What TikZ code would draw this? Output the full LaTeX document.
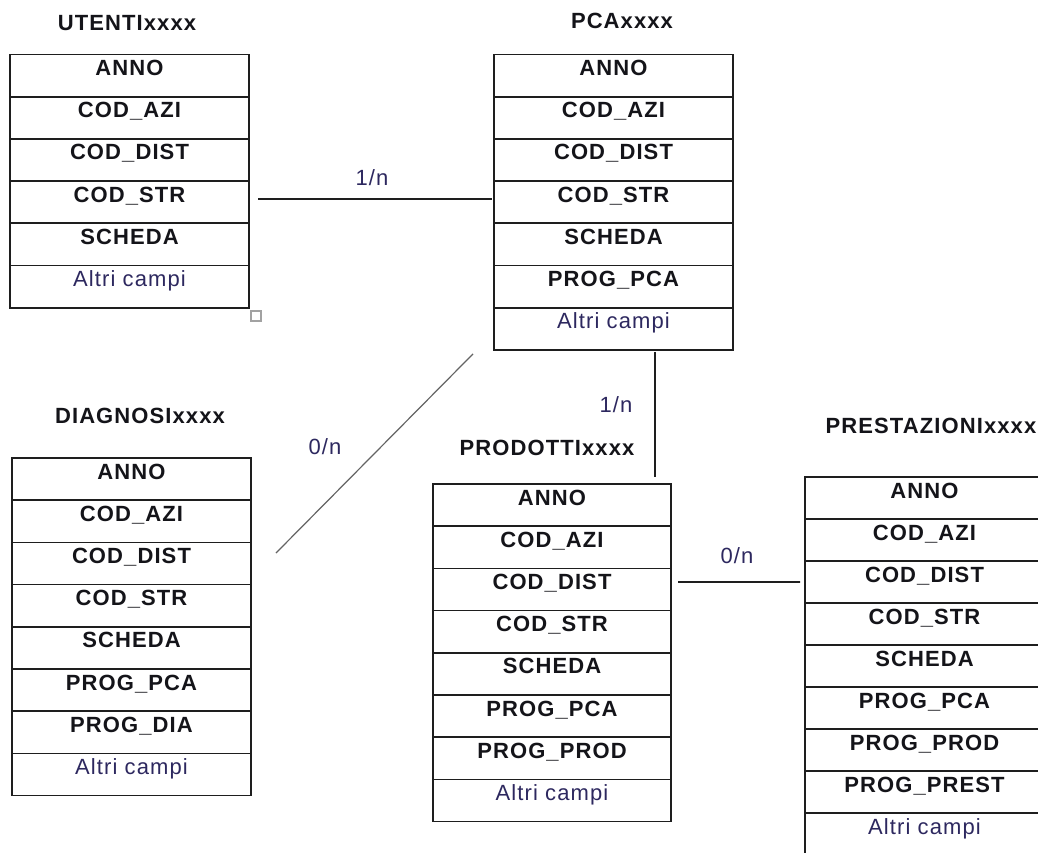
\documentclass[tikz,border=0pt]{standalone}
\usepackage{fontspec}
\setmainfont{Liberation Sans}[LetterSpace=5]
\usetikzlibrary{positioning}
\begin{document}
\begin{tikzpicture}[x=1pt,y=-1pt,
  campo/.style={draw=drawColor,line width=1.7pt,outer sep=0pt,inner xsep=0pt,inner ysep=0pt,
    minimum width=239pt,text height=21pt,text depth=21.2pt,text=textColor,
    font=\fontsize{22}{24}\selectfont\bfseries},
  altri/.style={campo,text=blueColor,font=\fontsize{22}{24}\selectfont},
  titolo/.style={anchor=base,inner sep=0pt,outer sep=0pt,text=textColor,
    font=\fontsize{22}{24}\selectfont\bfseries},
  etich/.style={anchor=base,inner sep=0pt,outer sep=0pt,text=blueColor,
    font=\fontsize{22}{24}\selectfont},
  rel/.style={draw=drawColor,line width=1.7pt}]
\definecolor{fillColor}{RGB}{255,255,255}
\definecolor{drawColor}{RGB}{30,30,30}
\definecolor{textColor}{RGB}{20,20,25}
\definecolor{blueColor}{RGB}{45,40,95}
\definecolor{grayColor}{RGB}{100,100,100}
\path[use as bounding box,fill=fillColor] (0,0) rectangle (1038,852);

\node[titolo] (tUtenti) at (127,30) {UTENTIxxxx};

\node[campo,anchor=north west] (utAnno) at (10,54.5) {ANNO};
\node[campo,below=0pt of utAnno] (utAzi) {COD\_AZI};
\node[campo,below=0pt of utAzi] (utDist) {COD\_DIST};
\node[campo,below=0pt of utDist] (utStr) {COD\_STR};
\node[campo,below=0pt of utStr] (utScheda) {SCHEDA};
\node[altri,below=0pt of utScheda] (utAltri) {Altri campi};

\node[draw=grayColor!60,line width=1.8pt,minimum size=10pt,inner sep=0pt] (maniglia) at (256,316) {};

\node[titolo] (tPca) at (622,28) {PCAxxxx};

\node[campo,anchor=north west] (pcAnno) at (494,54.5) {ANNO};
\node[campo,below=0pt of pcAnno] (pcAzi) {COD\_AZI};
\node[campo,below=0pt of pcAzi] (pcDist) {COD\_DIST};
\node[campo,below=0pt of pcDist] (pcStr) {COD\_STR};
\node[campo,below=0pt of pcStr] (pcScheda) {SCHEDA};
\node[campo,below=0pt of pcScheda] (pcProg) {PROG\_PCA};
\node[altri,below=0pt of pcProg] (pcAltri) {Altri campi};

\node[titolo] (tDiagnosi) at (140,423) {DIAGNOSIxxxx};

\node[campo,anchor=north west] (diAnno) at (12,458) {ANNO};
\node[campo,below=0pt of diAnno] (diAzi) {COD\_AZI};
\node[campo,below=0pt of diAzi] (diDist) {COD\_DIST};
\node[campo,below=0pt of diDist] (diStr) {COD\_STR};
\node[campo,below=0pt of diStr] (diScheda) {SCHEDA};
\node[campo,below=0pt of diScheda] (diPca) {PROG\_PCA};
\node[campo,below=0pt of diPca] (diProg) {PROG\_DIA};
\node[altri,below=0pt of diProg] (diAltri) {Altri campi};

\node[titolo] (tProdotti) at (547,455) {PRODOTTIxxxx};

\node[campo,anchor=north west,minimum width=238pt] (prAnno) at (433,484) {ANNO};
\node[campo,minimum width=238pt,below=0pt of prAnno] (prAzi) {COD\_AZI};
\node[campo,minimum width=238pt,below=0pt of prAzi] (prDist) {COD\_DIST};
\node[campo,minimum width=238pt,below=0pt of prDist] (prStr) {COD\_STR};
\node[campo,minimum width=238pt,below=0pt of prStr] (prScheda) {SCHEDA};
\node[campo,minimum width=238pt,below=0pt of prScheda] (prPca) {PROG\_PCA};
\node[campo,minimum width=238pt,below=0pt of prPca] (prProg) {PROG\_PROD};
\node[altri,minimum width=238pt,below=0pt of prProg] (prAltri) {Altri campi};

\node[titolo] (tPrestazioni) at (931,433) {PRESTAZIONIxxxx};

\node[campo,anchor=north west,text depth=21pt] (psAnno) at (805,477) {ANNO};
\node[campo,text depth=21pt,below=0pt of psAnno] (psAzi) {COD\_AZI};
\node[campo,text depth=21pt,below=0pt of psAzi] (psDist) {COD\_DIST};
\node[campo,text depth=21pt,below=0pt of psDist] (psStr) {COD\_STR};
\node[campo,text depth=21pt,below=0pt of psStr] (psScheda) {SCHEDA};
\node[campo,text depth=21pt,below=0pt of psScheda] (psPca) {PROG\_PCA};
\node[campo,text depth=21pt,below=0pt of psPca] (psProd) {PROG\_PROD};
\node[campo,text depth=21pt,below=0pt of psProd] (psProg) {PROG\_PREST};
\node[altri,text depth=21pt,below=0pt of psProg] (psAltri) {Altri campi};

\draw[rel] ([xshift=9pt,yshift=3pt]utStr.east) -- ([xshift=-2pt,yshift=3pt]pcStr.west);

\draw[rel,draw=grayColor,line width=1.2pt] ([xshift=-21pt,yshift=-4pt]pcAltri.south west) -- ([xshift=25pt,yshift=10.5pt]diDist.east);

\draw[rel] ([xshift=161pt,yshift=-2pt]pcAltri.south west) -- ([xshift=-16pt,yshift=7pt]prAnno.north east);

\draw[rel] ([xshift=7pt,yshift=7.5pt]prDist.east) -- ([xshift=-5pt]psDist.west);

\node[etich] (cardUt) at (372,185) {1/n};

\node[etich] (cardDi) at (325,454) {0/n};

\node[etich] (cardPr) at (616,412) {1/n};

\node[etich] (cardPs) at (737,563) {0/n};
\end{tikzpicture}
\end{document}
